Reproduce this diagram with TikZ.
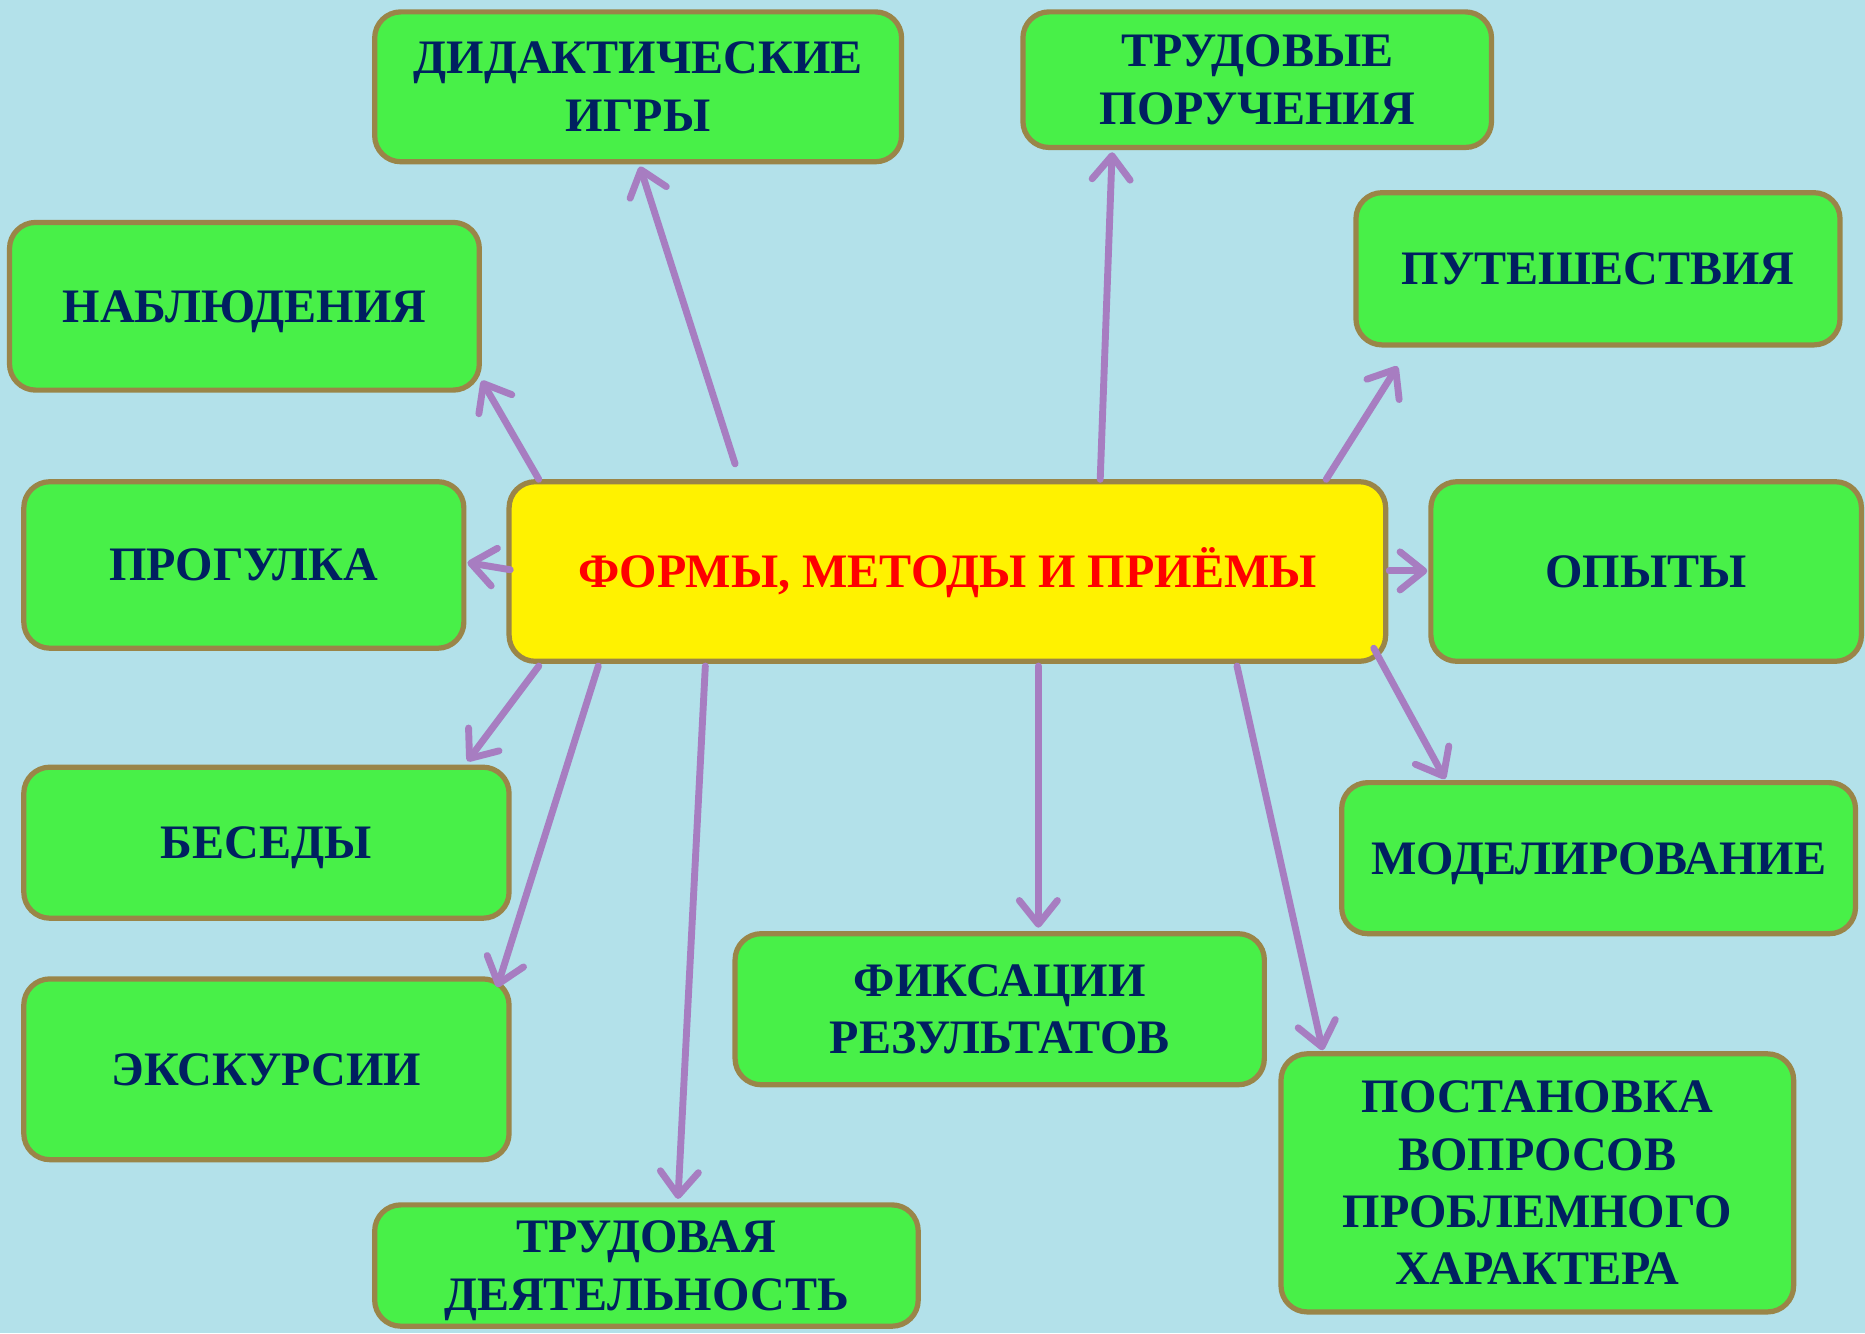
\documentclass[tikz,border=0pt]{standalone}
\usepackage{fontspec}
\setmainfont{Liberation Serif}
\usetikzlibrary{arrows.meta,calc}
\definecolor{bgblue}{HTML}{B3E1EA}
\definecolor{boxgreen}{HTML}{48F048}
\definecolor{boxborder}{HTML}{9A8548}
\definecolor{navy}{HTML}{002060}
\definecolor{arrowpurple}{HTML}{A77DC1}
\begin{document}
\begin{tikzpicture}[x=0.02cm,y=-0.02cm,
  box/.style={draw=boxborder, line width=2.5pt, fill=boxgreen, rounded corners=0.44cm,
    text=navy, font=\fontsize{23}{27.5}\selectfont\bfseries, align=center, inner sep=0pt,
    text depth=-0.13cm},
  oneline/.style={text height=15.3pt, text depth=0pt},
  centerbox/.style={box, oneline, fill=yellow, text=red},
  arr/.style={draw=arrowpurple, line width=3.3pt, line cap=round,
    -{Straight Barb[length=0.4cm,width=0.64cm,line cap=round,line join=round]}}]
\fill[bgblue] (0,0) rectangle (1568,1121);
\useasboundingbox (0,0) rectangle (1568,1121);

\node[centerbox, minimum width=737*0.02cm, minimum height=151*0.02cm] (c) at (796.5,480.5) {ФОРМЫ, МЕТОДЫ И ПРИЁМЫ};

\node[box, minimum width=443*0.02cm, minimum height=126*0.02cm] (did) at (536.5,73) {ДИДАКТИЧЕСКИЕ\\ИГРЫ};
\node[box, minimum width=394*0.02cm, minimum height=114*0.02cm] (tpor) at (1057,67) {ТРУДОВЫЕ\\ПОРУЧЕНИЯ};
\node[box, oneline, minimum width=395*0.02cm, minimum height=141*0.02cm] (nabl) at (205.5,257.5) {НАБЛЮДЕНИЯ};
\node[box, oneline, minimum width=407*0.02cm, minimum height=128*0.02cm] (put) at (1343.5,226) {ПУТЕШЕСТВИЯ};
\node[box, oneline, minimum width=370*0.02cm, minimum height=140*0.02cm] (prog) at (205,475) {ПРОГУЛКА};
\node[box, oneline, minimum width=362*0.02cm, minimum height=151*0.02cm] (op) at (1384,480.5) {ОПЫТЫ};
\node[box, oneline, minimum width=408*0.02cm, minimum height=127*0.02cm] (bes) at (224,708.5) {БЕСЕДЫ};
\node[box, oneline, minimum width=432*0.02cm, minimum height=127*0.02cm] (mod) at (1344,721.5) {МОДЕЛИРОВАНИЕ};
\node[box, oneline, minimum width=408*0.02cm, minimum height=152*0.02cm] (eks) at (224,899) {ЭКСКУРСИИ};
\node[box, minimum width=445*0.02cm, minimum height=127*0.02cm] (fiks) at (840.5,848.5) {ФИКСАЦИИ\\РЕЗУЛЬТАТОВ};
\node[box, minimum width=431*0.02cm, minimum height=217*0.02cm] (post) at (1292.5,994.5) {ПОСТАНОВКА\\ВОПРОСОВ\\ПРОБЛЕМНОГО\\ХАРАКТЕРА};
\node[box, minimum width=457*0.02cm, minimum height=102*0.02cm] (tdey) at (543.5,1064) {ТРУДОВАЯ\\ДЕЯТЕЛЬНОСТЬ};

\draw[arr] ($(c)+(-178.5,-90.5)$) -- ($(did)+(1.5,67)$);
\draw[arr] ($(c)+(128.5,-77.5)$) -- ($(tpor)+(-122,61)$);
\draw[arr] ($(c)+(-343.5,-77.5)$) -- ($(nabl)+(199.5,62.5)$);
\draw[arr] ($(c)+(318.5,-77.5)$) -- ($(put)+(-168.5,82)$);
\draw[arr] ($(c)+(-367.5,-1.5)$) -- ($(prog)+(188,-2)$);
\draw[arr] ($(c)+(371.5,-0.5)$) -- ($(op)+(-184,-0.5)$);
\draw[arr] ($(c)+(358.5,64.5)$) -- ($(mod)+(-129,-66.5)$);
\draw[arr] ($(c)+(-343.5,79.5)$) -- ($(bes)+(169,-68.5)$);
\draw[arr] ($(c)+(-293.5,79.5)$) -- ($(eks)+(194,-69)$);
\draw[arr] ($(c)+(-203.5,79.5)$) -- ($(tdey)+(26.5,-56)$);
\draw[arr] ($(c)+(76.5,79.5)$) -- ($(fiks)+(32.5,-68.5)$);
\draw[arr] ($(c)+(243.5,79.5)$) -- ($(post)+(-180.5,-111.5)$);
\end{tikzpicture}
\end{document}
